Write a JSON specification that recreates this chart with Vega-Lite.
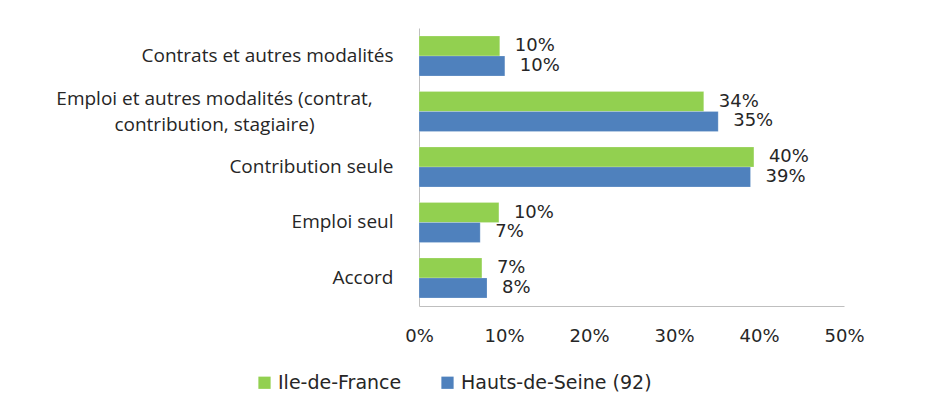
{
  "$schema": "https://vega.github.io/schema/vega-lite/v6.json",
  "width": 425,
  "height": 278,
  "autosize": {"type": "none"},
  "padding": {"left": 419, "top": 28, "right": 84, "bottom": 112},
  "background": "white",
  "config": {"view": {"stroke": null}},
  "data": {
    "values": [
      {"category": "Contrats et autres modalités", "region": "Ile-de-France", "value": 9.5, "label": "10%"},
      {"category": "Contrats et autres modalités", "region": "Hauts-de-Seine (92)", "value": 10.1, "label": "10%"},
      {"category": "Emploi et autres modalités (contrat, contribution, stagiaire)", "region": "Ile-de-France", "value": 33.5, "label": "34%"},
      {"category": "Emploi et autres modalités (contrat, contribution, stagiaire)", "region": "Hauts-de-Seine (92)", "value": 35.2, "label": "35%"},
      {"category": "Contribution seule", "region": "Ile-de-France", "value": 39.4, "label": "40%"},
      {"category": "Contribution seule", "region": "Hauts-de-Seine (92)", "value": 39.0, "label": "39%"},
      {"category": "Emploi seul", "region": "Ile-de-France", "value": 9.4, "label": "10%"},
      {"category": "Emploi seul", "region": "Hauts-de-Seine (92)", "value": 7.2, "label": "7%"},
      {"category": "Accord", "region": "Ile-de-France", "value": 7.4, "label": "7%"},
      {"category": "Accord", "region": "Hauts-de-Seine (92)", "value": 8.0, "label": "8%"}
    ]
  },
  "encoding": {
    "y": {
      "field": "category",
      "type": "nominal",
      "sort": ["Contrats et autres modalités", "Emploi et autres modalités (contrat, contribution, stagiaire)", "Contribution seule", "Emploi seul", "Accord"],
      "scale": {"paddingInner": 0.28, "paddingOuter": 0.145},
      "axis": {
        "title": null,
        "ticks": false,
        "domainColor": "#BFBFBF",
        "labelFont": "Open Sans",
        "labelFontSize": 19,
        "labelColor": "#262626",
        "labelPadding": {"condition": {"test": "indexof(datum.value, 'stagiaire') >= 0", "value": 205}, "value": 26},
        "labelAlign": {"condition": {"test": "indexof(datum.value, 'stagiaire') >= 0", "value": "center"}, "value": "right"},
        "labelOffset": {"condition": {"test": "indexof(datum.value, 'stagiaire') >= 0", "value": -12.5}, "value": 0},
        "labelLimit": 420,
        "labelLineHeight": 26,
        "labelExpr": "datum.value == 'Emploi et autres modalités (contrat, contribution, stagiaire)' ? ['Emploi et autres modalités (contrat,', 'contribution, stagiaire)'] : datum.value"
      }
    },
    "yOffset": {"field": "region", "type": "nominal", "sort": ["Ile-de-France", "Hauts-de-Seine (92)"]},
    "x": {
      "field": "value",
      "type": "quantitative",
      "scale": {"domain": [0, 50]},
      "axis": {
        "title": null,
        "values": [0, 10, 20, 30, 40, 50],
        "labelExpr": "datum.value + '%'",
        "ticks": false,
        "grid": false,
        "domainColor": "#BFBFBF",
        "labelFont": "DejaVu Sans",
        "labelFontSize": 18,
        "labelColor": "#262626",
        "labelPadding": 21,
        "labelFlush": false
      }
    }
  },
  "layer": [
    {
      "mark": {"type": "bar", "stroke": "#FFFFFF", "strokeOpacity": 0.4, "strokeWidth": 0.5},
      "encoding": {
        "color": {
          "field": "region",
          "type": "nominal",
          "sort": ["Ile-de-France", "Hauts-de-Seine (92)"],
          "scale": {"domain": ["Ile-de-France", "Hauts-de-Seine (92)"], "range": ["#92D050", "#4F81BD"]},
          "legend": {
            "title": null,
            "orient": "none",
            "direction": "horizontal",
            "legendX": -164,
            "legendY": 345,
            "symbolType": "square",
            "symbolSize": 150,
            "symbolStrokeWidth": 0,
            "labelFont": "DejaVu Sans",
            "labelFontSize": 19,
            "labelColor": "#262626",
            "labelOffset": 4,
            "columnPadding": 36,
            "labelLimit": 300
          }
        }
      }
    },
    {
      "mark": {"type": "text", "align": "left", "baseline": "middle", "dx": 15, "font": "DejaVu Sans", "fontSize": 18, "color": "#262626"},
      "encoding": {"text": {"field": "label"}}
    }
  ]
}
